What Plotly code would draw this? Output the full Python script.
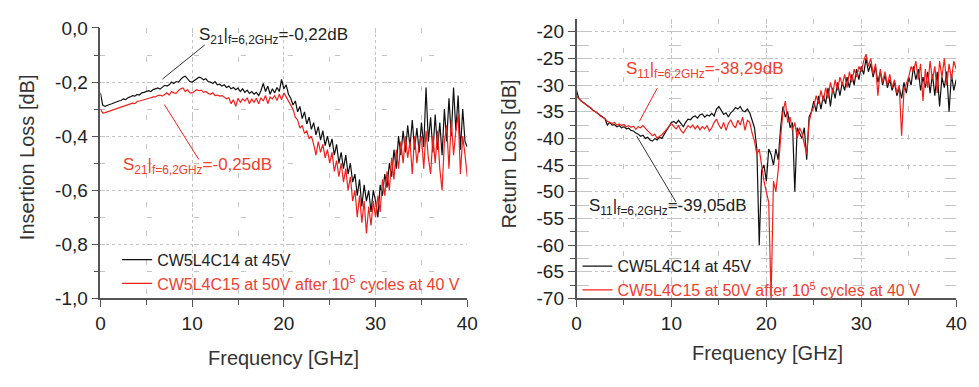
import plotly.graph_objects as go

# ---------------- data ----------------
FREQ_GHZ = [i * 0.25 for i in range(161)]  # measurement frequency grid 0..40 GHz

S21_CW5L4C14 = [
    -0.24, -0.285, -0.29, -0.285, -0.283, -0.28, -0.276, -0.275, -0.27, -0.268, -0.262, -0.265, -0.258, -0.255, -0.25, -0.252, -0.246, -0.248, -0.24, -0.238,
    -0.236, -0.232, -0.235, -0.228, -0.225, -0.222, -0.226, -0.218, -0.212, -0.215, -0.21, -0.2, -0.205, -0.198, -0.2, -0.19, -0.182, -0.178, -0.19, -0.198,
    -0.2, -0.195, -0.19, -0.182, -0.185, -0.192, -0.188, -0.198, -0.2, -0.205, -0.198, -0.21, -0.208, -0.215, -0.21, -0.22, -0.215, -0.225, -0.22, -0.228,
    -0.222, -0.235, -0.225, -0.238, -0.23, -0.242, -0.235, -0.245, -0.238, -0.25, -0.232, -0.205, -0.235, -0.215, -0.245, -0.225, -0.24, -0.22, -0.235, -0.19,
    -0.225, -0.21, -0.245, -0.26, -0.285, -0.27, -0.31, -0.29, -0.335, -0.31, -0.355, -0.33, -0.375, -0.35, -0.395, -0.365, -0.415, -0.38, -0.435, -0.4,
    -0.44, -0.41, -0.47, -0.43, -0.5, -0.46, -0.52, -0.47, -0.54, -0.5, -0.57, -0.54, -0.62, -0.56, -0.66, -0.58, -0.64, -0.6, -0.68, -0.6,
    -0.64, -0.7, -0.58, -0.62, -0.54, -0.59, -0.5, -0.55, -0.45, -0.52, -0.4, -0.47, -0.38, -0.46, -0.36, -0.44, -0.34, -0.45, -0.37, -0.46,
    -0.35, -0.44, -0.22, -0.42, -0.33, -0.46, -0.32, -0.45, -0.35, -0.47, -0.3, -0.42, -0.26, -0.4, -0.22, -0.38, -0.25, -0.45, -0.3, -0.42,
    -0.44,
]

S21_CW5L4C15 = [
    -0.3, -0.315, -0.313, -0.31, -0.308, -0.305, -0.302, -0.3, -0.296, -0.294, -0.29, -0.288, -0.285, -0.28, -0.278, -0.28, -0.272, -0.27, -0.268, -0.265,
    -0.262, -0.26, -0.258, -0.255, -0.255, -0.25, -0.248, -0.252, -0.245, -0.24, -0.248, -0.235, -0.24, -0.242, -0.232, -0.225, -0.222, -0.235, -0.228, -0.24,
    -0.24, -0.235, -0.228, -0.232, -0.23, -0.238, -0.235, -0.242, -0.245, -0.24, -0.25, -0.248, -0.252, -0.25, -0.255, -0.262, -0.258, -0.28, -0.265, -0.29,
    -0.26, -0.275, -0.262, -0.27, -0.258, -0.28, -0.262, -0.275, -0.26, -0.28, -0.258, -0.27, -0.25, -0.28, -0.255, -0.262, -0.25, -0.268, -0.245, -0.265,
    -0.24, -0.255, -0.27, -0.285, -0.3, -0.33, -0.34, -0.37, -0.36, -0.39, -0.38, -0.41, -0.4, -0.43, -0.47, -0.42, -0.46, -0.43, -0.48, -0.45,
    -0.5, -0.46, -0.53, -0.49, -0.55, -0.5, -0.57, -0.52, -0.6, -0.55, -0.64, -0.6, -0.7, -0.62, -0.72, -0.64, -0.76, -0.66, -0.73, -0.64,
    -0.7, -0.62, -0.68, -0.56, -0.62, -0.53, -0.6, -0.48, -0.56, -0.45, -0.52, -0.42, -0.5, -0.4, -0.48, -0.42, -0.54, -0.4, -0.5, -0.43,
    -0.4, -0.52, -0.38, -0.48, -0.54, -0.4, -0.5, -0.38, -0.52, -0.6, -0.42, -0.36, -0.52, -0.34, -0.47, -0.38, -0.32, -0.54, -0.4, -0.47,
    -0.55,
]

S11_CW5L4C14 = [
    -31, -32.5, -33, -33.3, -33.6, -34, -34.3, -34.7, -35, -35.4, -35.7, -36, -36.3, -37.5, -37, -37.5, -37.4, -37.8, -37.6, -38,
    -37.8, -38.2, -38.1, -38.5, -38.6, -39, -39.2, -39.6, -39.4, -40, -39.8, -40.3, -40.5, -40, -40.3, -39.8, -40, -39.2, -38.5, -37.8,
    -37, -36.8, -37.2, -36.6, -37.2, -37.8, -37, -36.4, -36.5, -36, -35.8, -36.2, -35.6, -35.4, -36, -35.6, -35.8, -35.3, -35.8, -34.5,
    -34, -34.8, -35.5, -35.2, -36, -35.2, -34.8, -34.2, -34.5, -34, -34.8, -35, -34.5, -35.2, -36.5, -38, -42, -60, -46, -45,
    -48, -42, -43, -45, -42, -44, -38, -34, -36, -35, -38, -37, -50, -38, -39, -40, -38, -44, -36, -35,
    -33, -35, -32, -34.5, -32, -33.5, -30.5, -34, -30.5, -32.5, -29.5, -32, -29.5, -31, -28.5, -30.5, -28, -30, -27, -29,
    -26.5, -28, -25, -27.5, -26, -28.5, -26.5, -29.5, -27.5, -30, -28, -30.5, -29, -31, -29.5, -32, -30.5, -32.5, -29.5, -31.5,
    -28.5, -30, -26.5, -29, -27, -31, -28.5, -30.5, -27.5, -31.5, -28, -32, -27.5, -34, -28.5, -30.5, -27.5, -35, -28, -31,
    -29,
]

S11_CW5L4C15 = [
    -32, -32.6, -33, -33.3, -33.7, -34, -34.3, -34.8, -35, -35.3, -35.8, -36, -36.3, -36.8, -37, -37.2, -37, -37.5, -37.3, -37.6,
    -37.4, -37.8, -37.6, -37.9, -37.7, -38.3, -37.8, -38, -37.6, -38.2, -38.6, -39, -39.5, -39.2, -40, -39.6, -39.3, -38.8, -38.2, -37.6,
    -37.2, -37.8, -38.2, -37.6, -38.5, -39, -38.2, -37.6, -38, -37.5, -38.2, -37.6, -38.4, -37.8, -38.2, -37.6, -38.6, -38, -37, -36.4,
    -37.5, -38.2, -37, -38.5, -37.2, -36.5, -37.5, -38, -36.6, -37.5, -36, -38.5, -36.6, -37, -39, -40.5, -43, -42, -45, -48,
    -50, -52, -70, -48, -50, -46, -40, -35, -33, -37, -36, -38.5, -37, -40, -38, -39, -41, -43, -37, -35,
    -34, -32, -33.5, -31, -33, -30.5, -32.5, -29.5, -31.5, -29, -31, -28.5, -30, -28, -30.5, -27.5, -29.5, -27, -28.5, -26.5,
    -27.5, -25.5, -24.2, -26.5, -25, -28, -26, -32, -27, -29.5, -27.5, -30, -28, -30.5, -29, -31.5, -30, -39.5, -31, -29.5,
    -28.5, -26.5, -27.5, -25.5, -29, -26, -33, -27, -30.5, -25.5, -29, -26.5, -31.5, -25.5, -28.5, -25, -30, -26, -29, -25.5,
    -27,
]

for s in (S21_CW5L4C14, S21_CW5L4C15, S11_CW5L4C14, S11_CW5L4C15):
    assert len(s) == len(FREQ_GHZ), len(s)

X_TICKS = [0, 10, 20, 30, 40]
IL_TICKS = [0.0, -0.2, -0.4, -0.6, -0.8, -1.0]
IL_TICK_TEXT = ["0,0", "-0,2", "-0,4", "-0,6", "-0,8", "-1,0"]
RL_TICKS = [-20, -25, -30, -35, -40, -45, -50, -55, -60, -65, -70]
RL_TICK_TEXT = ["-20", "-25", "-30", "-35", "-40", "-45", "-50", "-55", "-60", "-65", "-70"]

NAME_A = "CW5L4C14 at 45V"
NAME_B = "CW5L4C15 at 50V after 10<sup>5</sup> cycles at 40 V"

# label texts and the points (freq, level) / text anchors the pointer lines join
LABELS_LEFT = ["S<sub>21</sub>|<sub>f=6,2GHz</sub>=-0,22dB", "S<sub>21</sub>|<sub>f=6,2GHz</sub>=-0,25dB"]
LABELS_RIGHT = ["S<sub>11</sub>|<sub>f=6,2GHz</sub>=-38,29dB", "S<sub>11</sub>|<sub>f=6,2GHz</sub>=-39,05dB"]

# ---------------- style ----------------
FONT = "Liberation Sans, Arial, sans-serif"
BLACK = "#111111"
RED = "#f0201a"
RED_TXT = "#f0402e"
AXIS = "#555555"
GRID = "#c4c4c4"

fig = go.Figure()
fig.add_trace(go.Scatter(x=FREQ_GHZ, y=S21_CW5L4C14, mode="lines", name=NAME_A,
                         line=dict(color=BLACK, width=1.2), xaxis="x", yaxis="y", legend="legend"))
fig.add_trace(go.Scatter(x=FREQ_GHZ, y=S21_CW5L4C15, mode="lines",
                         name='<span style="color:%s">%s</span>' % (RED_TXT, NAME_B),
                         line=dict(color=RED, width=1.2), xaxis="x", yaxis="y", legend="legend"))
fig.add_trace(go.Scatter(x=FREQ_GHZ, y=S11_CW5L4C14, mode="lines", name=NAME_A,
                         line=dict(color=BLACK, width=1.2), xaxis="x2", yaxis="y2", legend="legend2"))
fig.add_trace(go.Scatter(x=FREQ_GHZ, y=S11_CW5L4C15, mode="lines",
                         name='<span style="color:%s">%s</span>' % (RED_TXT, NAME_B),
                         line=dict(color=RED, width=1.2), xaxis="x2", yaxis="y2", legend="legend2"))


def xaxis(domain, anchor):
    return dict(domain=domain, anchor=anchor, range=[0, 40], tickvals=X_TICKS,
                showline=True, linecolor=AXIS, linewidth=1.5,
                ticks="outside", ticklen=7, tickwidth=1.3, tickcolor=AXIS,
                tickfont=dict(family=FONT, size=19, color="#222"),
                showgrid=True, gridcolor=GRID, griddash="dot", gridwidth=1,
                zeroline=False,
                minor=dict(tickmode="linear", tick0=0, dtick=5, ticks="outside", ticklen=5,
                           tickwidth=1, tickcolor=AXIS, showgrid=True, gridcolor=GRID,
                           griddash="5px,24px", gridwidth=1))


def yaxis(domain, anchor, rng, vals, text, minor_dt, dash):
    return dict(domain=domain, anchor=anchor, range=rng, tickvals=vals, ticktext=text,
                showline=True, linecolor=AXIS, linewidth=1.5,
                ticks="outside", ticklen=7, tickwidth=1.3, tickcolor=AXIS,
                tickfont=dict(family=FONT, size=19, color="#222"),
                showgrid=True, gridcolor=GRID, griddash="dot", gridwidth=1,
                zeroline=False,
                minor=dict(tickmode="linear", tick0=0, dtick=minor_dt, ticks="outside", ticklen=5,
                           tickwidth=1, tickcolor=AXIS, showgrid=True, gridcolor=GRID,
                           griddash=dash, gridwidth=1))


W, H = 979, 387
fig.update_layout(
    width=W, height=H,
    margin=dict(l=0, r=0, t=0, b=0),
    paper_bgcolor="white", plot_bgcolor="white",
    font=dict(family=FONT, color="#222"),
    xaxis=xaxis([97 / W, 470 / W], "y"),
    yaxis=yaxis([1 - 305 / H, 1 - 19 / H], "x", [-1.0, 0.0], IL_TICKS, IL_TICK_TEXT, 0.1, "5px,42px"),
    xaxis2=xaxis([581 / W, 967 / W], "y2"),
    yaxis2=yaxis([1 - 305 / H, 1 - 10 / H], "x2", [-70, -17.7], RL_TICKS, RL_TICK_TEXT, 2.5, "12px,80px"),
    legend=dict(x=114 / W, y=1 - 246 / H, xanchor="left", yanchor="top",
                bgcolor="rgba(0,0,0,0)", borderwidth=0,
                font=dict(family=FONT, size=16, color="#222"), tracegroupgap=0),
    legend2=dict(x=582 / W, y=1 - 253 / H, xanchor="left", yanchor="top",
                 bgcolor="rgba(0,0,0,0)", borderwidth=0,
                 font=dict(family=FONT, size=16, color="#222"), tracegroupgap=0),
    showlegend=True,
)

ann = []
# axis titles
ann.append(dict(text="Insertion Loss [dB]", x=22 / W, y=1 - 156 / H, xref="paper", yref="paper",
                textangle=-90, showarrow=False, font=dict(family=FONT, size=20, color="#333"),
                xanchor="center", yanchor="middle"))
ann.append(dict(text="Return Loss [dB]", x=512 / W, y=1 - 152 / H, xref="paper", yref="paper",
                textangle=-90, showarrow=False, font=dict(family=FONT, size=20, color="#333"),
                xanchor="center", yanchor="middle"))
ann.append(dict(text="Frequency [GHz]", x=283 / W, y=1 - 368 / H, xref="paper", yref="paper",
                showarrow=False, font=dict(family=FONT, size=20, color="#333"),
                xanchor="center", yanchor="middle"))
ann.append(dict(text="Frequency [GHz]", x=775 / W, y=1 - 363 / H, xref="paper", yref="paper",
                showarrow=False, font=dict(family=FONT, size=20, color="#333"),
                xanchor="center", yanchor="middle"))

# measurement labels
LBL = 17
ann.append(dict(text=LABELS_LEFT[0], x=10.5, y=-0.03, xref="x", yref="y",
                showarrow=False, xanchor="left", yanchor="middle",
                font=dict(family=FONT, size=LBL, color="#222")))
ann.append(dict(text=LABELS_LEFT[1], x=2.2, y=-0.51, xref="x", yref="y",
                showarrow=False, xanchor="left", yanchor="middle",
                font=dict(family=FONT, size=LBL, color=RED_TXT)))
ann.append(dict(text=LABELS_RIGHT[0], x=5.0, y=-27.1, xref="x2", yref="y2",
                showarrow=False, xanchor="left", yanchor="middle",
                font=dict(family=FONT, size=LBL, color=RED_TXT)))
ann.append(dict(text=LABELS_RIGHT[1], x=1.1, y=-52.8, xref="x2", yref="y2",
                showarrow=False, xanchor="left", yanchor="middle",
                font=dict(family=FONT, size=LBL, color="#222")))
fig.update_layout(annotations=ann)

# pointer lines from the labels to the curves
def pointer(x0, y0, x1, y1, xr, yr, color):
    return dict(type="line", x0=x0, y0=y0, x1=x1, y1=y1, xref=xr, yref=yr,
                line=dict(color=color, width=1))

fig.update_layout(shapes=[
    pointer(11.37, -0.063, 6.76, -0.189, "x", "y", "#333"),
    pointer(10.72, -0.486, 6.97, -0.283, "x", "y", RED),
    pointer(8.5, -30.6, 6.63, -36.8, "x2", "y2", RED),
    pointer(10.47, -51.9, 6.32, -39.5, "x2", "y2", "#333"),
])

fig.write_html("out.html")
